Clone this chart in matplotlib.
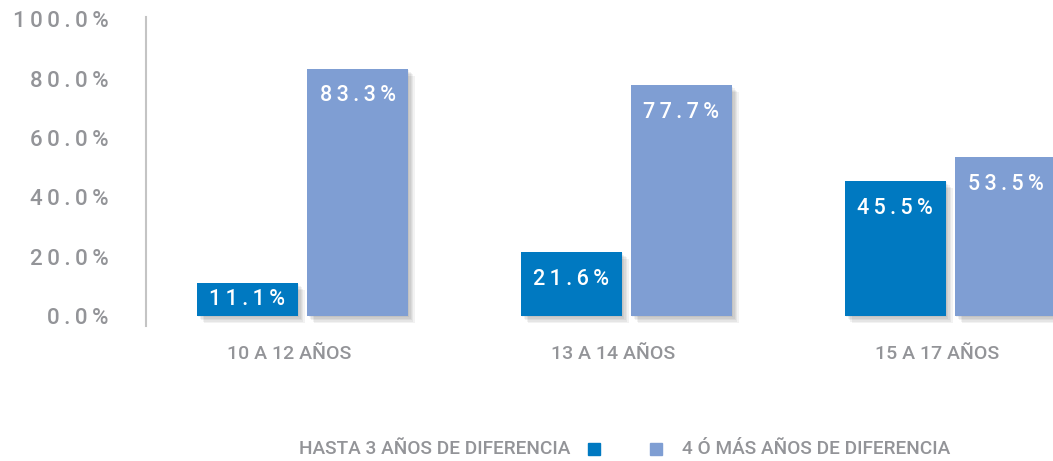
#Grafica de barras por grupos de edad
import numpy as np
import matplotlib.pyplot as plt
from matplotlib.patches import Rectangle
import matplotlib.patheffects as pe

plt.rcParams['font.family'] = ['Roboto', 'DejaVu Sans']
plt.rcParams['font.weight'] = 'medium'

#Datos
categorias = ["10 A 12 AÑOS", "13 A 14 AÑOS", "15 A 17 AÑOS"]
hasta3 = [11.1, 21.6, 45.5]
cuatroMas = [83.3, 77.7, 53.5]
series = ["HASTA 3 AÑOS DE DIFERENCIA", "4 Ó MÁS AÑOS DE DIFERENCIA"]
ticksY = [0, 20, 40, 60, 80, 100]

azul = "#0079C1"
celeste = "#7F9ED3"
gris = "#939498"

def espaciar(texto):
    return "\u2009".join(texto)

fig = plt.figure(figsize=(10.53, 4.61), dpi=100)
ax = fig.add_axes([0.1387, 0.2928, 0.8613, 0.670])

x = np.arange(len(categorias))
ancho = 0.311
desp = 0.17
sombra = [pe.SimplePatchShadow(offset=(k, -k), shadow_rgbFace="#000000", alpha=0.05) for k in (1, 2, 3, 4, 5)]
sombra.append(pe.Normal())

b1 = ax.bar(x - desp, hasta3, ancho, color=azul, zorder=3)
b2 = ax.bar(x + desp, cuatroMas, ancho, color=celeste, zorder=3)
for b in list(b1) + list(b2):
    b.set_path_effects(sombra)

for barras, vals in [(b1, hasta3), (b2, cuatroMas)]:
    for b, v in zip(barras, vals):
        xc = b.get_x() + b.get_width() / 2
        if v < 15:
            #barra corta: etiqueta centrada
            ax.annotate(espaciar("%.1f%%" % v), (xc, v / 2), ha="center", va="center",
                        color="white", fontsize=15.5, zorder=4)
        else:
            ax.annotate(espaciar("%.1f%%" % v), (xc, v),
                        xytext=(0, -12), textcoords="offset points", ha="center", va="top",
                        color="white", fontsize=15.5, zorder=4)

ax.set_xlim(-0.483, 2.317)
ax.set_ylim(-3.37, 100.7)
ax.set_yticks(ticksY)
ax.set_yticklabels([espaciar("%.1f%%" % t) for t in ticksY], color=gris, fontsize=16)
ax.set_xticks(x - 0.04)
ax.set_xticklabels(categorias, color=gris, fontsize=14)
ax.tick_params(axis="y", length=0, pad=27)
ax.tick_params(axis="x", length=0, pad=14)
for s in ["top", "right", "bottom"]:
    ax.spines[s].set_visible(False)
ax.spines["left"].set_color("#C4C4C4")
ax.spines["left"].set_linewidth(1.5)

#Leyenda manual
fig.text(570 / 1053, 1 - 449 / 461, series[0], ha="right", va="center", color=gris, fontsize=13.7)
fig.text(682 / 1053, 1 - 449 / 461, series[1], ha="left", va="center", color=gris, fontsize=13.7)
fig.patches.append(Rectangle((588 / 1053, 1 - 455 / 461), 12 / 1053, 12 / 461,
                             transform=fig.transFigure, color=azul, figure=fig))
fig.patches.append(Rectangle((650 / 1053, 1 - 455 / 461), 12 / 1053, 12 / 461,
                             transform=fig.transFigure, color=celeste, figure=fig))

plt.savefig("out.png", dpi=100)
